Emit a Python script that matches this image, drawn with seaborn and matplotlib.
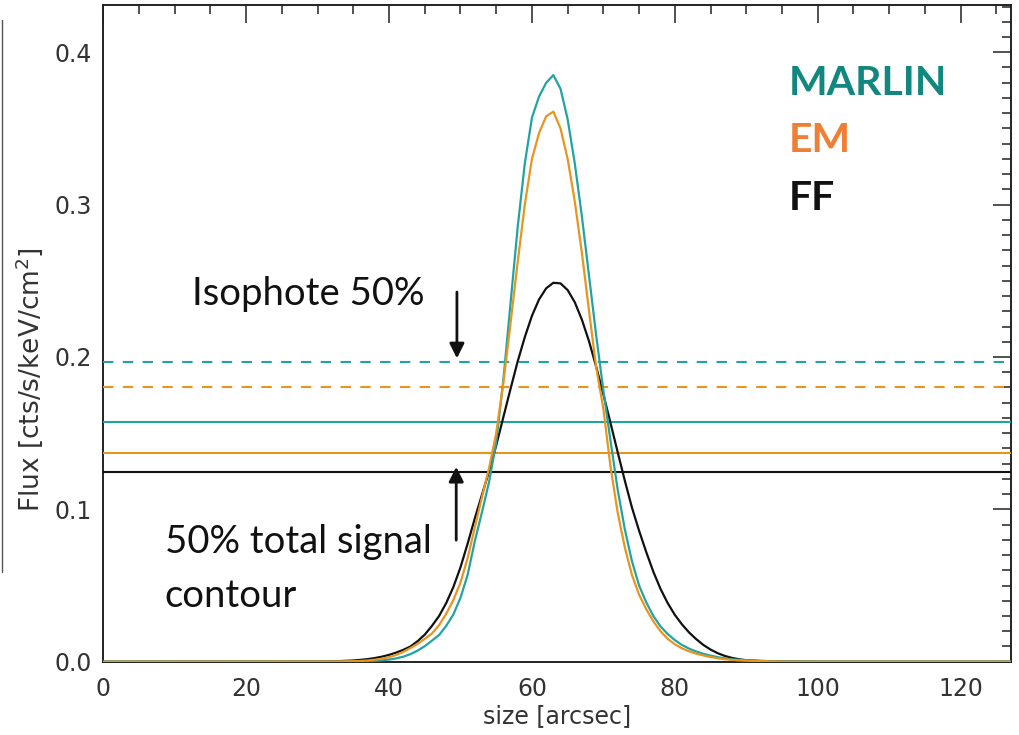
import matplotlib
matplotlib.use("Agg")
import numpy as np
import pandas as pd
import matplotlib.pyplot as plt
import seaborn as sns
from matplotlib.ticker import MultipleLocator, FormatStrFormatter
from matplotlib.lines import Line2D

# ---------------- data ----------------
SIZE = [0, 30, 33, 35,
        36, 37, 38, 39, 40, 41, 42, 43, 44, 45, 46, 47, 48, 49, 50,
        51, 52, 53, 54, 55, 56, 57, 58, 59, 60, 61, 62, 63, 64, 65,
        66, 67, 68, 69, 70, 71, 72, 73, 74, 75, 76, 77, 78, 79, 80,
        81, 82, 83, 84, 85, 86, 87, 88, 89, 90,
        92, 95, 100, 127]

FLUX_MARLIN = [0.0, 0.0, 0.0001, 0.0002,
               0.0003, 0.0004, 0.0006, 0.0009, 0.0014, 0.0022, 0.0033, 0.0050, 0.0073, 0.0102,
               0.0138, 0.0175, 0.0235, 0.0310, 0.0420,
               0.0570, 0.0790, 0.0980, 0.1180, 0.1440, 0.1850, 0.2350, 0.2850, 0.3270, 0.3570,
               0.3710, 0.3800, 0.3850, 0.3760, 0.3560,
               0.3270, 0.2920, 0.2530, 0.2140, 0.1780, 0.1450, 0.1130, 0.0870, 0.0660, 0.0500,
               0.0390, 0.0300, 0.0232, 0.0182, 0.0142,
               0.0110, 0.0086, 0.0067, 0.0052, 0.0040, 0.0030, 0.0022, 0.0016, 0.0012, 0.0009,
               0.0005, 0.0002, 0.0, 0.0]

FLUX_EM = [0.0, 0.0001, 0.0002, 0.0003,
           0.0005, 0.0008, 0.0013, 0.0020, 0.0030, 0.0045, 0.0065, 0.0090, 0.0118, 0.0150,
           0.0185, 0.0240, 0.0315, 0.0405, 0.0520,
           0.0680, 0.0880, 0.1080, 0.1270, 0.1500, 0.1830, 0.2220, 0.2620, 0.3000, 0.3300,
           0.3470, 0.3580, 0.3610, 0.3500, 0.3300,
           0.3020, 0.2680, 0.2300, 0.1930, 0.1660, 0.1280, 0.0980, 0.0750, 0.0570, 0.0440,
           0.0345, 0.0265, 0.0200, 0.0150, 0.0115,
           0.0088, 0.0068, 0.0053, 0.0041, 0.0031, 0.0023, 0.0017, 0.0012, 0.0009, 0.0007,
           0.0004, 0.0001, 0.0, 0.0]

FLUX_FF = [0.0, 0.0001, 0.0004, 0.0008,
           0.0012, 0.0017, 0.0024, 0.0033, 0.0045, 0.0060, 0.0078, 0.0100, 0.0135, 0.0178,
           0.0235, 0.0300, 0.0385, 0.0490, 0.0620,
           0.0775, 0.0940, 0.1095, 0.1250, 0.1420, 0.1605, 0.1790, 0.1970, 0.2130, 0.2270,
           0.2378, 0.2451, 0.2487, 0.2483, 0.2439,
           0.2359, 0.2244, 0.2102, 0.1935, 0.1755, 0.1567, 0.1376, 0.1189, 0.1012, 0.0860,
           0.0720, 0.0590, 0.0478, 0.0385, 0.0308,
           0.0245, 0.0192, 0.0148, 0.0110, 0.0080, 0.0056, 0.0038, 0.0025, 0.0016, 0.0010,
           0.0005, 0.0002, 0.0, 0.0]

METHODS = ["MARLIN", "EM", "FF"]
ISO_METHODS = ["MARLIN", "EM"]          # dashed: isophote 50 %
ISO_LEVELS = [0.1967, 0.1803]
SIGNAL_METHODS = ["MARLIN", "EM", "FF"]  # solid: 50 % total signal contour
SIGNAL_LEVELS = [0.1574, 0.1370, 0.1246]

LINE_COLORS = {"MARLIN": "#22a3a3", "EM": "#e8951f", "FF": "#111111"}
TEXT_COLORS = {"MARLIN": "#12877f", "EM": "#ef7f34", "FF": "#111111"}

# ---------------- figure ----------------
sns.set_style("white")
plt.rcParams["font.family"] = ["DejaVu Sans"]

fig = plt.figure(figsize=(10.19, 7.35), dpi=100)
ax = fig.add_axes([0.1014, 0.0997, 0.8903, 0.8935])

df = pd.DataFrame({
    "size": SIZE * 3,
    "flux": FLUX_FF + FLUX_MARLIN + FLUX_EM,
    "method": ["FF"] * len(SIZE) + ["MARLIN"] * len(SIZE) + ["EM"] * len(SIZE),
})
sns.lineplot(data=df, x="size", y="flux", hue="method",
             hue_order=["FF", "MARLIN", "EM"], palette=LINE_COLORS,
             linewidth=1.6, legend=False, sort=False, estimator=None, ax=ax)
for ln in ax.lines:
    ln.set_zorder(4)

for m, lev in zip(ISO_METHODS, ISO_LEVELS):
    ax.axhline(lev, color=LINE_COLORS[m], lw=1.5, ls=(0, (5, 4.5)), zorder=3)
for m, lev in zip(SIGNAL_METHODS, SIGNAL_LEVELS):
    ax.axhline(lev, color=LINE_COLORS[m], lw=1.5, zorder=3)

ax.set_xlim(0, 127)
ax.set_ylim(0, 0.431)
ax.xaxis.set_major_locator(MultipleLocator(20))
ax.xaxis.set_minor_locator(MultipleLocator(5))
ax.yaxis.set_major_locator(MultipleLocator(0.1))
ax.yaxis.set_minor_locator(MultipleLocator(0.01))
ax.yaxis.set_major_formatter(FormatStrFormatter("%.1f"))

ax.tick_params(which="both", direction="in", top=True, right=True,
               color="#222222", labelcolor="#333333", labelsize=17, width=1.1)
ax.tick_params(which="major", length=13)
ax.tick_params(which="minor", length=6.5)
ax.tick_params(axis="x", pad=11)
ax.tick_params(axis="y", pad=8)
for s in ax.spines.values():
    s.set_linewidth(1.4)
    s.set_color("#222222")

ax.set_xlabel("size [arcsec]", fontsize=17, color="#333333")
ax.set_ylabel("Flux [cts/s/keV/cm$^2$]", fontsize=19, color="#333333")
ax.xaxis.set_label_coords(0.5, -0.064)
ax.yaxis.set_label_coords(-0.064, 0.43)

# ---------------- annotations ----------------
ann_font = ["Lato", "DejaVu Sans"]
ax.text(12.35, 0.234, "Isophote 50%", family=ann_font, fontsize=27.5,
        color="#111111", ha="left", va="baseline")
ax.text(8.6, 0.0713, "50% total signal", family=ann_font, fontsize=27.5,
        color="#111111", ha="left", va="baseline")
ax.text(8.6, 0.0361, "contour", family=ann_font, fontsize=27.5,
        color="#111111", ha="left", va="baseline")

ax.annotate("", xy=(49.5, 0.1991), xytext=(49.5, 0.2426),
            arrowprops=dict(arrowstyle="-|>", lw=2, color="#111111",
                            mutation_scale=22, shrinkA=0, shrinkB=0))
ax.annotate("", xy=(49.4, 0.1279), xytext=(49.4, 0.0798),
            arrowprops=dict(arrowstyle="-|>", lw=2, color="#111111",
                            mutation_scale=22, shrinkA=0, shrinkB=0))

for name, yb in zip(METHODS, [0.3719, 0.3342, 0.2962]):
    ax.text(95.9, yb, name, family=ann_font, fontsize=29.5, fontweight="bold",
            color=TEXT_COLORS[name], ha="left", va="baseline")

# thin grey rule at the far left of the slide
fig.add_artist(Line2D([0.002, 0.002], [1 - 572 / 735, 1 - 20 / 735],
                      transform=fig.transFigure, color="#555555", lw=1))

fig.savefig("out.png", dpi=100)
